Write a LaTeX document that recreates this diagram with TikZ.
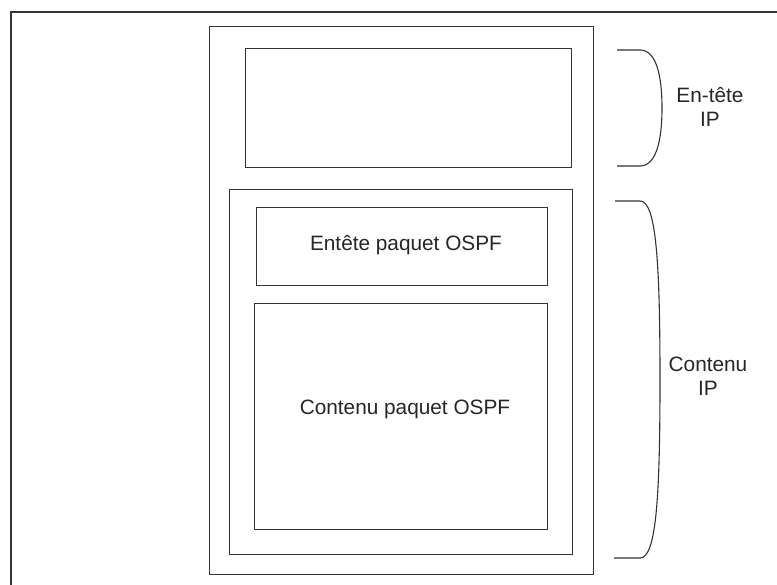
\documentclass[tikz,border=0pt]{standalone}
\usepackage{fontspec}
\setmainfont{Liberation Sans}
\begin{document}
\begin{tikzpicture}[x=1pt,y=-1pt,
  line/.style={draw=black!80,line width=1.3pt},
  box/.style={line,rectangle,inner sep=0pt,anchor=north west},
  lbl/.style={font=\fontsize{20.8}{24}\selectfont,text=black!85,align=center}]
\useasboundingbox (0,0) rectangle (777,585);
% page frame (top and left edges)
\draw[line] (11,585) -- (11,12) -- (777,12);
% IP packet
\node[box,minimum width=384pt,minimum height=548pt] (packet) at (209,26) {};
\node[box,minimum width=326pt,minimum height=119pt] (iphdr) at (245,48) {};
\node[box,minimum width=343pt,minimum height=365pt] (ipbody) at (229,189) {};
% OSPF packet
\node[box,minimum width=291pt,minimum height=78pt] (ospfhdr) at (256,207) {};
\node[box,minimum width=293pt,minimum height=226pt] (ospfbody) at (254,303) {};
\node[lbl] (t1) at (406,245) {Entête paquet OSPF};
\node[lbl] (t2) at (405,409) {Contenu paquet OSPF};
% braces and their labels
\draw[line,line width=1.1pt] (617,50) -- (640,50)
  .. controls (656,50) and (662,75) .. (662,108)
  .. controls (662,141) and (656,166) .. (640,166) -- (617,166);
\draw[line,line width=1.1pt] (615,201) -- (640,201)
  .. controls (656,201) and (660,260) .. (660,380)
  .. controls (660,500) and (656,558) .. (640,558) -- (614,558);
\node[lbl] (t3) at (710,107) {En-tête\\IP};
\node[lbl] (t4) at (708,376) {Contenu\\IP};
\end{tikzpicture}
\end{document}
